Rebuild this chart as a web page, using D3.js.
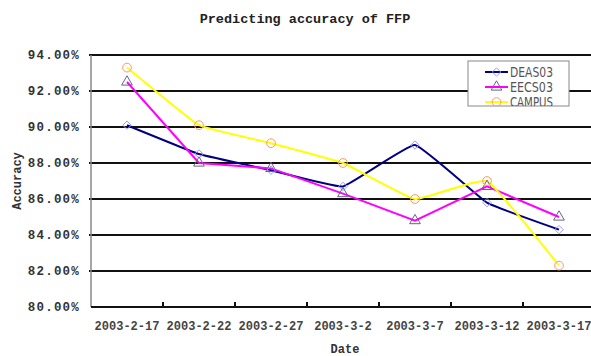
<!DOCTYPE html>
<html><head><meta charset="utf-8">
<script src="https://cdnjs.cloudflare.com/ajax/libs/d3/7.8.5/d3.min.js"></script>
<style>html,body{margin:0;padding:0;background:#fff;overflow:hidden}</style>
</head><body>
<svg id="c" width="591" height="356"></svg>
<script>
const categories = ["2003-2-17","2003-2-22","2003-2-27","2003-3-2","2003-3-7","2003-3-12","2003-3-17"];
const deas03 = [90.1, 88.5, 87.6, 86.7, 89.0, 85.8, 84.3];
const eecs03 = [92.5, 88.0, 87.7, 86.3, 84.8, 86.7, 85.0];
const campus = [93.3, 90.1, 89.1, 88.0, 86.0, 87.0, 82.3];
const yTicks = [80, 82, 84, 86, 88, 90, 92, 94];
const seriesNames = ["DEAS03","EECS03","CAMPUS"];

(function () {
const series = [
  {name: seriesNames[0], values: deas03, line: "#000080", marker: "#9999ff", shape: d3.symbolDiamond2, size: 45, smooth: true},
  {name: seriesNames[1], values: eecs03, line: "#ff00ff", marker: "#666688", shape: d3.symbolTriangle, size: 50, smooth: false},
  {name: seriesNames[2], values: campus, line: "#ffff00", marker: "#ff9966", shape: d3.symbolCircle, size: 60, smooth: true}
];

const svg = d3.select("#c");
const pl = 91, pr = 595, pt = 55, pb = 307;
const x = d3.scaleBand().domain(categories).range([pl, pr]);
const y = d3.scaleLinear().domain([80, 94]).range([pb, pt]);
const mono = "'Liberation Mono','DejaVu Sans Mono',monospace";

svg.append("text").attr("x", 305).attr("y", 23).attr("text-anchor", "middle")
  .attr("font-family", mono).attr("font-weight", "bold").attr("font-size", 13.5)
  .attr("fill", "#222").text("Predicting accuracy of FFP");

svg.append("g").selectAll("line").data(yTicks.filter(d => d > 80)).join("line")
  .attr("x1", pl - 2).attr("x2", 591).attr("y1", d => y(d)).attr("y2", d => y(d))
  .attr("stroke", "#111").attr("stroke-width", 2);

svg.append("line").attr("x1", pl).attr("x2", pl).attr("y1", pt).attr("y2", pb)
  .attr("stroke", "#888").attr("stroke-width", 1.5);

svg.append("g").selectAll("text").data(yTicks).join("text")
  .attr("x", 80).attr("y", d => y(d)).attr("dy", "0.35em").attr("text-anchor", "end")
  .attr("font-family", mono).attr("font-weight", "bold").attr("font-size", 12.5)
  .attr("letter-spacing", 1.2).attr("fill", "#333")
  .text(d => d.toFixed(2) + "%");

svg.append("line").attr("x1", pl).attr("x2", 591).attr("y1", pb).attr("y2", pb)
  .attr("stroke", "#111").attr("stroke-width", 2);
svg.append("g").selectAll("line").data(categories.slice(1)).join("line")
  .attr("x1", d => x(d)).attr("x2", d => x(d)).attr("y1", pb).attr("y2", pb - 5)
  .attr("stroke", "#111").attr("stroke-width", 2);

svg.append("g").selectAll("text").data(categories).join("text")
  .attr("x", d => x(d) + x.bandwidth() / 2).attr("y", 330).attr("text-anchor", "middle")
  .attr("font-family", mono).attr("font-weight", "bold").attr("font-size", 12)
  .attr("fill", "#444").text(d => d);

svg.append("text").attr("x", 345).attr("y", 353).attr("text-anchor", "middle")
  .attr("font-family", mono).attr("font-weight", "bold").attr("font-size", 12)
  .attr("fill", "#333").text("Date");
svg.append("text").attr("transform", "translate(21,181) rotate(-90)").attr("text-anchor", "middle")
  .attr("font-family", mono).attr("font-weight", "bold").attr("font-size", 12)
  .attr("fill", "#333").text("Accuracy");

series.forEach(s => {
  const line = d3.line()
    .x((d, i) => x(categories[i]) + x.bandwidth() / 2)
    .y(d => y(d))
    .curve(s.smooth ? d3.curveCardinal.tension(0.7) : d3.curveLinear);
  svg.append("path").datum(s.values).attr("d", line)
    .attr("fill", "none").attr("stroke", s.line).attr("stroke-width", 2);
});
series.forEach(s => {
  svg.append("g").selectAll("path").data(s.values).join("path")
    .attr("transform", (d, i) => `translate(${x(categories[i]) + x.bandwidth() / 2},${y(d)})`)
    .attr("d", d3.symbol().type(s.shape).size(s.size))
    .attr("fill", "none").attr("stroke", s.marker).attr("stroke-width", 1);
});

const lg = svg.append("g");
lg.append("clipPath").attr("id", "lgclip").append("rect")
  .attr("x", 468).attr("y", 61).attr("width", 101).attr("height", 45);
lg.append("rect").attr("x", 468).attr("y", 61).attr("width", 101).attr("height", 45)
  .attr("fill", "#fff").attr("stroke", "#888").attr("stroke-width", 1);
const items = lg.append("g").attr("clip-path", "url(#lgclip)");
series.forEach((s, i) => {
  const yy = 72 + i * 15;
  items.append("line").attr("x1", 485).attr("x2", 508).attr("y1", yy).attr("y2", yy)
    .attr("stroke", s.line).attr("stroke-width", 2);
  items.append("path").attr("transform", `translate(496.5,${yy})`)
    .attr("d", d3.symbol().type(s.shape).size(s.size))
    .attr("fill", "none").attr("stroke", s.marker).attr("stroke-width", 1);
  items.append("text").attr("x", 510).attr("y", yy).attr("dy", "0.36em")
    .attr("font-family", "'Liberation Sans Narrow','DejaVu Sans Condensed',sans-serif")
    .attr("font-size", 14).attr("textLength", 43).attr("lengthAdjust", "spacingAndGlyphs")
    .attr("fill", "#555").text(s.name);
});
})();
</script>
</body></html>
